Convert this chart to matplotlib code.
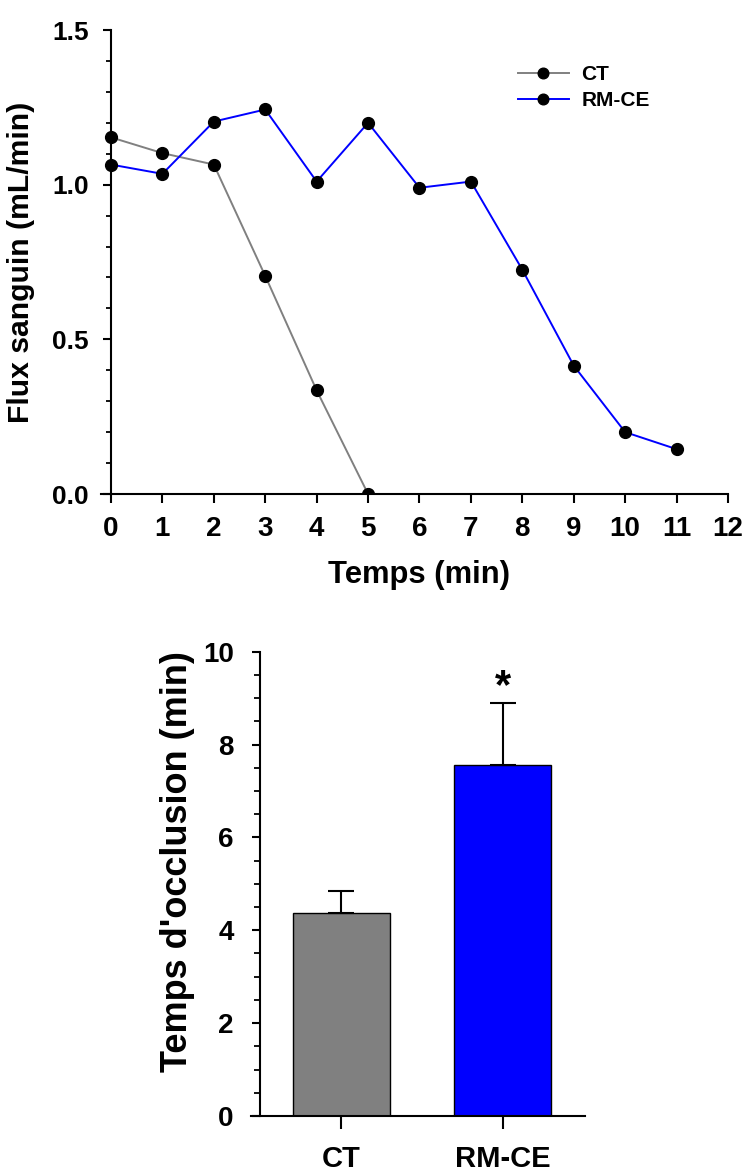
import matplotlib
matplotlib.use("Agg")
import matplotlib.pyplot as plt
from matplotlib.ticker import MultipleLocator

plt.rcParams['font.family'] = ['Liberation Sans', 'DejaVu Sans']
plt.rcParams['font.weight'] = 'bold'

# ---- data ----
time_min = [0, 1, 2, 3, 4, 5, 6, 7, 8, 9, 10, 11]
ct_time = [0, 1, 2, 3, 4, 5]
ct_flux = [1.153, 1.102, 1.065, 0.705, 0.335, 0.0]
rm_flux = [1.065, 1.035, 1.204, 1.243, 1.01, 1.20, 0.99, 1.01, 0.725, 0.415, 0.20, 0.145]
series_labels = ["CT", "RM-CE"]

groups = ["CT", "RM-CE"]
occl_mean = [4.37, 7.56]
occl_err = [0.48, 1.34]
sig_marks = ["", "*"]
sig_y = [None, 9.34]

GRAY = "#808080"
BLUE = "#0000FF"

W, H = 747, 1171
fig = plt.figure(figsize=(W / 100, H / 100), dpi=100)

# ---------------- top line chart ----------------
L, R, T, B = 100.7, 728, 30, 494
ax = fig.add_axes([L / W, 1 - B / H, (R - L) / W, (B - T) / H])
ax.plot(ct_time, ct_flux, color=GRAY, lw=1.4, marker='o', ms=8.5,
        mfc='black', mec='black', label=series_labels[0], zorder=3)
ax.plot(time_min, rm_flux, color=BLUE, lw=1.4, marker='o', ms=8.5,
        mfc='black', mec='black', label=series_labels[1], zorder=3)
ax.set_xlim(-0.2, 12)
ax.set_ylim(0, 1.5)
for s in ['top', 'right']:
    ax.spines[s].set_visible(False)
ax.spines['left'].set_position(('data', 0))
for s in ['left', 'bottom']:
    ax.spines[s].set_linewidth(1.5)
    ax.spines[s].set_zorder(5)
ax.set_xticks(range(0, 13))
ax.set_yticks([0, 0.5, 1.0, 1.5])
ax.set_yticklabels(["0.0", "0.5", "1.0", "1.5"])
ax.yaxis.set_minor_locator(MultipleLocator(0.1))
ax.tick_params(axis='x', which='major', direction='out', length=6.5, width=1.5,
               pad=9, labelsize=20)
ax.tick_params(axis='y', which='major', direction='out', length=6, width=1.5,
               pad=10, labelsize=19)
ax.tick_params(axis='y', which='minor', direction='out', length=3.6, width=1.3)
for lab in ax.get_xticklabels() + ax.get_yticklabels():
    lab.set_fontweight('bold')
ax.set_xlabel("Temps (min)", fontsize=22.3, fontweight='bold')
ax.set_ylabel("Flux sanguin (mL/min)", fontsize=21.7, fontweight='bold')
ax.xaxis.set_label_coords(0.508, -0.142)
ax.yaxis.set_label_coords(-0.104, 0.5)
leg = ax.legend(loc='upper left', bbox_to_anchor=(0.665, 0.925), frameon=False,
                prop={'size': 15, 'weight': 'bold'}, handlelength=2.45,
                handletextpad=0.6, labelspacing=0.35, borderpad=0,
                borderaxespad=0, markerscale=0.9)

# ---------------- bottom bar chart ----------------
L2, R2, T2, B2 = 251, 585, 651.7, 1116
ax2 = fig.add_axes([L2 / W, 1 - B2 / H, (R2 - L2) / W, (B2 - T2) / H])
xpos = list(range(len(groups)))
ax2.bar(xpos, occl_mean, width=0.6, color=[GRAY, BLUE], edgecolor='black',
        linewidth=1.0, zorder=2)
ax2.errorbar(xpos, occl_mean, yerr=[[0, 0], occl_err], fmt='none',
             ecolor='black', elinewidth=1.5, capsize=9.5, capthick=1.5, zorder=3)
for x, s, y in zip(xpos, sig_marks, sig_y):
    if s:
        ax2.text(x, y, s, ha='center', va='center_baseline', fontsize=30,
                 fontweight='bold')
ax2.set_xlim(-0.557, 1.509)
ax2.set_ylim(0, 10)
for s in ['top', 'right']:
    ax2.spines[s].set_visible(False)
ax2.spines['left'].set_position(('data', -0.5))
for s in ['left', 'bottom']:
    ax2.spines[s].set_linewidth(1.5)
    ax2.spines[s].set_zorder(5)
ax2.set_xticks(xpos)
ax2.set_xticklabels(groups)
ax2.set_yticks(range(0, 11, 2))
ax2.yaxis.set_minor_locator(MultipleLocator(0.5))
ax2.tick_params(axis='x', which='major', direction='out', length=9, width=1.5,
                pad=12, labelsize=21)
ax2.tick_params(axis='y', which='major', direction='out', length=6, width=1.5,
                pad=13, labelsize=20)
ax2.tick_params(axis='y', which='minor', direction='out', length=4.2, width=1.3)
for lab in ax2.get_xticklabels() + ax2.get_yticklabels():
    lab.set_fontweight('bold')
ax2.set_ylabel("Temps d'occlusion (min)", fontsize=26, fontweight='bold')
ax2.yaxis.set_label_coords(-0.168, 0.547)

fig.savefig("out.png", dpi=100)
